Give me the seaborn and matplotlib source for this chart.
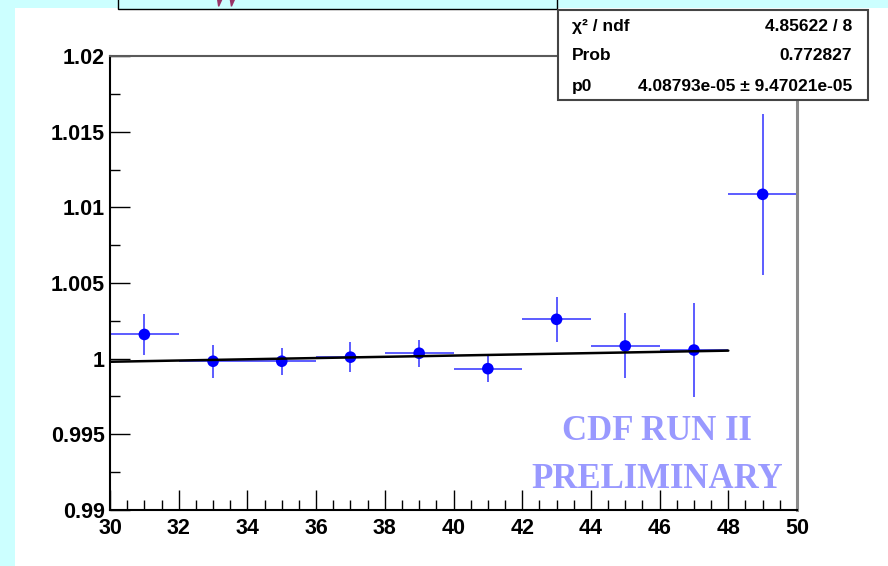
import numpy as np
import pandas as pd
import seaborn as sns
import matplotlib.pyplot as plt
from matplotlib.patches import Rectangle
from matplotlib.ticker import MultipleLocator, FuncFormatter

# Ratio per 2-unit bin, with statistical errors
bin_centers = [31, 33, 35, 37, 39, 41, 43, 45, 47, 49]
bin_half_width = [1, 1, 1, 1, 1, 1, 1, 1, 1, 1]
ratio = [1.0016, 0.99983, 0.99983, 1.0001, 1.00036, 0.99934, 1.0026, 1.00084, 1.00057, 1.01086]
ratio_err = [0.00135, 0.0011, 0.00088, 0.001, 0.00088, 0.0009, 0.0015, 0.00215, 0.0031, 0.00534]

# Linear fit result: f(x) = 1 + p0 * (x - 35), fitted over 30..48
p0 = 4.08793e-05
p0_err = 9.47021e-05
chi2, ndf, prob = 4.85622, 8, 0.772827
fit_range = [30, 48]
fit_pivot = 35

x_ticks = list(range(30, 51, 2))
y_ticks = [0.99, 0.995, 1.0, 1.005, 1.01, 1.015, 1.02]

df = pd.DataFrame({"x": bin_centers, "y": ratio, "yerr": ratio_err, "xerr": bin_half_width})
fit_x = np.linspace(fit_range[0], fit_range[1], 50)
fit_df = pd.DataFrame({"x": fit_x, "y": 1 + p0 * (fit_x - fit_pivot)})

sns.set_theme(style="white")
plt.rcParams["font.family"] = ["Liberation Sans", "DejaVu Sans"]
plt.rcParams["font.weight"] = "bold"

W, H = 888, 566
fig = plt.figure(figsize=(W / 100, H / 100), dpi=100)
fig.patch.set_facecolor("#CCFFFF")


def fx(px):
    return px / W


def fy(py):
    return 1 - py / H


# white pad
fig.patches.append(Rectangle((fx(15), 0), 1 - fx(15), fy(7.5), transform=fig.transFigure,
                             facecolor="white", edgecolor="none", zorder=-10))
# title box (mostly above the canvas)
fig.patches.append(Rectangle((fx(118), fy(9.3)), fx(557) - fx(118), 0.06, transform=fig.transFigure,
                             facecolor="#CCFFFF", edgecolor="black", lw=1.0, zorder=1))
fig.text(fx(226), fy(6), "W", color="#993366", fontsize=30, family="Liberation Serif",
         style="italic", weight="normal", ha="center", va="baseline", zorder=2)

ax = fig.add_axes([fx(110), fy(510), fx(797) - fx(110), fy(56) - fy(510)])
ax.set_facecolor("white")

ax.errorbar(df["x"], df["y"], yerr=df["yerr"], xerr=df["xerr"], fmt="none",
            ecolor="#5c5cff", elinewidth=1.4, capsize=0, zorder=2)
sns.scatterplot(data=df, x="x", y="y", color="#0000ff", s=70, edgecolor="none",
                zorder=3, ax=ax, legend=False)
sns.lineplot(data=fit_df, x="x", y="y", color="black", lw=1.8, ax=ax, zorder=4)

ax.set_xlim(30, 50)
ax.set_ylim(0.99, 1.02)
ax.set_xticks(x_ticks)
ax.set_yticks(y_ticks)
ax.xaxis.set_minor_locator(MultipleLocator(0.5))
ax.yaxis.set_minor_locator(MultipleLocator(0.0025))
ax.xaxis.set_major_formatter(FuncFormatter(lambda v, p: f"{v:g}"))
ax.yaxis.set_major_formatter(FuncFormatter(lambda v, p: f"{v:g}"))
ax.set_xlabel("")
ax.set_ylabel("")

ax.tick_params(axis="both", which="both", direction="in", bottom=True, left=True,
               top=False, right=False, color="black", width=1.0)
ax.tick_params(axis="both", which="major", length=14.4, labelsize=15.5)
ax.tick_params(axis="both", which="minor", length=7.2)
ax.tick_params(axis="x", which="major", pad=5.5)
ax.tick_params(axis="y", which="major", pad=3.6)
for lbl in ax.get_xticklabels() + ax.get_yticklabels():
    lbl.set_fontweight("bold")
    lbl.set_color("black")

ax.spines["left"].set_color("black")
ax.spines["left"].set_linewidth(1.5)
ax.spines["bottom"].set_color("black")
ax.spines["bottom"].set_linewidth(1.5)
ax.spines["top"].set_color("#5a5a5a")
ax.spines["top"].set_linewidth(1.5)
ax.spines["right"].set_color("#8a8a8a")
ax.spines["right"].set_linewidth(2.2)

# watermark
wm = dict(ha="center", va="baseline", family="Liberation Serif", weight="bold",
          fontsize=25, color="#9999ff")
fig.text(fx(657), fy(440), "CDF RUN II", **wm)
fig.text(fx(657), fy(488), "PRELIMINARY", **wm)

# fit statistics box
fig.patches.append(Rectangle((fx(558), fy(100)), fx(868) - fx(558), fy(10) - fy(100),
                             transform=fig.transFigure, facecolor="white",
                             edgecolor="#444444", lw=1.5, zorder=10))
rows = [("χ² / ndf", f"{chi2:g} / {ndf}"),
        ("Prob", f"{prob:g}"),
        ("p0", f"{p0:.5e} ± {p0_err:.5e}")]
baselines = [31, 60, 91]
for (name, val), b in zip(rows, baselines):
    fig.text(fx(572), fy(b), name, ha="left", va="baseline", fontsize=12.5,
             weight="bold", color="black", zorder=11)
    fig.text(fx(852), fy(b), val, ha="right", va="baseline", fontsize=12.5,
             weight="bold", color="black", zorder=11)

fig.savefig("out.png", dpi=100, facecolor=fig.get_facecolor())
